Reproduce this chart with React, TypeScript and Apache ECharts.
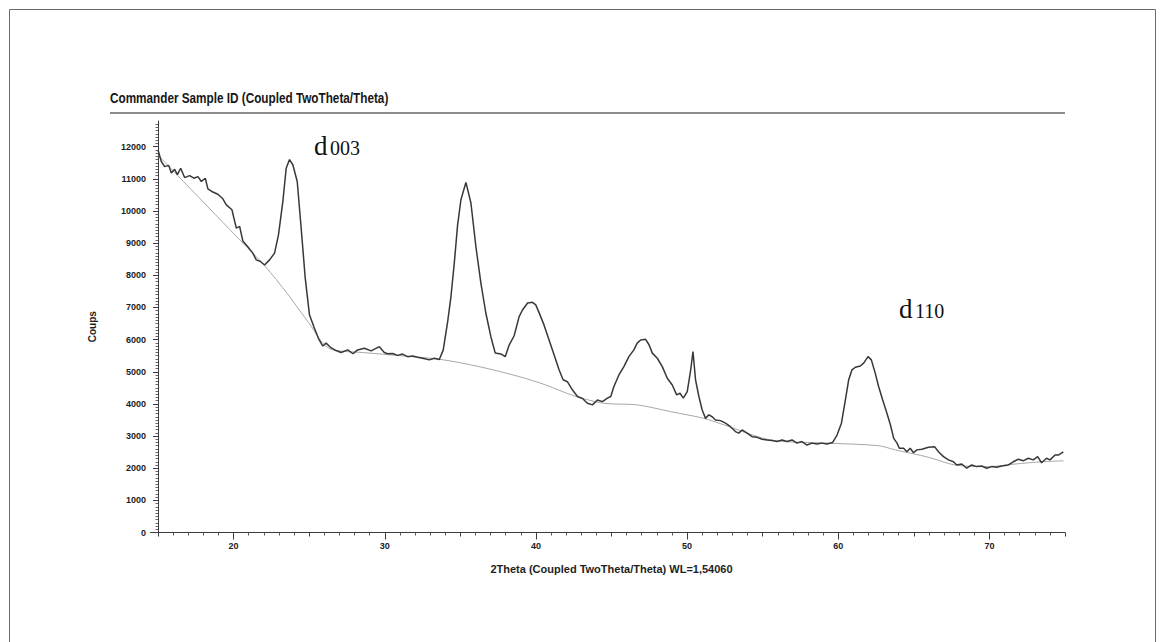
import React, { useEffect, useRef } from "react";
import * as echarts from "echarts";

// Measured diffraction pattern: 2θ (degrees) and intensity (counts)
const scanAngle = [
  15.0, 15.22, 15.44, 15.71, 15.88, 16.1, 16.28, 16.5, 16.76, 17.09, 17.38, 17.64, 17.87, 18.13,
  18.3, 18.63, 18.96, 19.29, 19.52, 19.89, 20.18, 20.4, 20.61, 20.94, 21.27, 21.5, 21.78, 22.05,
  22.38, 22.71, 22.97, 23.26, 23.48, 23.7, 23.92, 24.21, 24.47, 24.74, 25.02, 25.31, 25.61, 25.9,
  26.12, 26.41, 26.78, 27.11, 27.55, 27.9, 28.2, 28.65, 29.1, 29.64, 29.97, 30.19, 30.52, 30.85,
  31.18, 31.51, 31.84, 32.17, 32.5, 32.95, 33.28, 33.61, 33.87, 34.16, 34.38, 34.6, 34.82, 35.04,
  35.37, 35.7, 36.03, 36.36, 36.69, 37.02, 37.31, 37.68, 37.97, 38.23, 38.56, 38.89, 39.11, 39.45,
  39.77, 39.99, 40.21, 40.54, 40.87, 41.2, 41.53, 41.8, 42.08, 42.42, 42.75, 43.08, 43.41, 43.74,
  44.07, 44.4, 44.73, 44.95, 45.16, 45.49, 45.82, 46.15, 46.48, 46.7, 46.93, 47.26, 47.48, 47.7,
  48.03, 48.36, 48.69, 49.02, 49.31, 49.53, 49.75, 50.01, 50.24, 50.39, 50.56, 50.78, 51.0, 51.22,
  51.44, 51.66, 51.88, 52.21, 52.54, 52.87, 53.2, 53.42, 53.64, 53.97, 54.3, 54.63, 54.96, 55.29,
  55.62, 55.95, 56.28, 56.61, 56.94, 57.27, 57.6, 57.93, 58.26, 58.59, 58.92, 59.25, 59.63, 59.92,
  60.21, 60.47, 60.69, 60.91, 61.13, 61.46, 61.68, 61.97, 62.19, 62.45, 62.67, 62.94, 63.22, 63.45,
  63.67, 63.89, 64.04, 64.32, 64.54, 64.76, 64.98, 65.2, 65.53, 65.97, 66.37, 66.63, 66.96, 67.29,
  67.62, 67.84, 68.17, 68.5, 68.83, 69.16, 69.49, 69.82, 70.15, 70.48, 70.81, 71.25, 71.58, 71.91,
  72.24, 72.57, 72.9, 73.19, 73.45, 73.78, 74.01, 74.34, 74.56, 74.89,
];
const scanCounts = [
  11900, 11540, 11380, 11420, 11180, 11300, 11130, 11330, 11040, 11100, 11020, 11070, 10920, 11020,
  10690, 10590, 10520, 10380, 10190, 10040, 9470, 9520, 9070, 8890, 8690, 8480, 8430, 8320,
  8480, 8690, 9260, 10300, 11330, 11600, 11440, 10920, 9470, 7910, 6770, 6400, 6040, 5800,
  5890, 5760, 5660, 5600, 5680, 5560, 5680, 5730, 5650, 5780, 5600, 5560, 5570, 5510,
  5550, 5470, 5490, 5450, 5420, 5370, 5420, 5380, 5680, 6550, 7340, 8380, 9570, 10350,
  10890, 10250, 8890, 7760, 6820, 6090, 5580, 5555, 5470, 5830, 6120, 6716, 6920, 7140,
  7160, 7080, 6840, 6450, 5990, 5530, 5060, 4750, 4690, 4430, 4230, 4170, 4020, 3970,
  4120, 4070, 4180, 4230, 4540, 4900, 5160, 5470, 5680, 5890, 5990, 6010, 5840, 5580,
  5420, 5160, 4800, 4590, 4280, 4330, 4180, 4380, 5060, 5630, 4750, 4230, 3810, 3550,
  3660, 3600, 3500, 3480, 3400, 3290, 3140, 3090, 3190, 3090, 2980, 2960, 2900, 2880,
  2860, 2830, 2880, 2830, 2880, 2780, 2830, 2720, 2780, 2750, 2780, 2750, 2800, 3030,
  3400, 4120, 4750, 5060, 5140, 5180, 5270, 5470, 5370, 4950, 4540, 4120, 3710, 3350,
  2930, 2780, 2620, 2620, 2510, 2620, 2480, 2570, 2590, 2650, 2670, 2510, 2360, 2260,
  2200, 2100, 2130, 2000, 2100, 2050, 2070, 2000, 2050, 2030, 2070, 2100, 2200, 2280,
  2230, 2310, 2260, 2360, 2170, 2310, 2260, 2410, 2410, 2510,
];

// Fitted background under the pattern
const baseAngle = [
  15.0, 16.21, 20.29, 22.05, 23.59, 24.35, 25.13, 25.9, 26.56, 28.5, 31.0, 33.6, 36.24, 38.89,
  40.65, 42.52, 44.5, 46.7, 48.91, 51.11, 52.43, 55.52, 59.37, 62.67, 63.77, 65.97, 67.73, 69.93,
  71.7, 73.45, 74.9,
];
const baseCounts = [
  11740, 11150, 9160, 8300, 7410, 6920, 6420, 5890, 5680, 5600, 5500, 5390, 5160, 4850,
  4590, 4250, 4020, 3970, 3760, 3550, 3350, 2880, 2780, 2700, 2570, 2340, 2100, 2050,
  2130, 2200, 2230,
];

const xLabelTicks = [20, 30, 40, 50, 60, 70];
const yLabelTicks = [0, 1000, 2000, 3000, 4000, 5000, 6000, 7000, 8000, 9000, 10000, 11000, 12000];

const TITLE = "Commander Sample ID (Coupled TwoTheta/Theta)";
const X_NAME = "2Theta (Coupled TwoTheta/Theta) WL=1,54060";
const Y_NAME = "Coups";

const zip = (xs: number[], ys: number[]) => xs.map((x, i) => [x, ys[i]]);

export default function App() {
  const ref = useRef<HTMLDivElement>(null);

  useEffect(() => {
    if (!ref.current) return;
    const chart = echarts.init(ref.current, null, { renderer: "svg" });
    const sans = "'Liberation Sans', Arial, sans-serif";
    const serif = "'Liberation Serif', 'Times New Roman', serif";
    const axisColor = "#3c3c3c";
    const labelStyle = {
      fontFamily: sans,
      fontSize: 9,
      fontWeight: "bold" as const,
      color: "#1c1c1c",
      formatter: (v: number) => String(v),
    };

    chart.setOption({
      animation: false,
      backgroundColor: "#ffffff",
      grid: { left: 158, right: 101, top: 121, bottom: 109.5 },
      xAxis: [
        {
          type: "value",
          min: 15,
          max: 75,
          interval: 5,
          axisLine: { show: true, lineStyle: { color: axisColor, width: 1 } },
          axisTick: { show: true, length: 4, lineStyle: { color: axisColor } },
          minorTick: { show: true, splitNumber: 5, length: 3, lineStyle: { color: "#555" } },
          splitLine: { show: false },
          axisLabel: { ...labelStyle, margin: 9, customValues: xLabelTicks },
          name: X_NAME,
          nameLocation: "middle",
          nameGap: 31,
          nameTextStyle: { fontFamily: sans, fontSize: 11, fontWeight: "bold", color: "#1e1e1e" },
        },
        {
          type: "value",
          min: 15,
          max: 75,
          interval: 5,
          position: "bottom",
          axisLine: { show: false },
          axisTick: { show: true, length: 7, customValues: xLabelTicks, lineStyle: { color: axisColor } },
          axisLabel: { show: false },
          splitLine: { show: false },
        },
      ],
      yAxis: {
        type: "value",
        min: 0,
        max: 12800,
        interval: 1000,
        axisLine: { show: true, lineStyle: { color: axisColor, width: 1 } },
        axisTick: { show: true, length: 5, customValues: yLabelTicks, lineStyle: { color: axisColor } },
        minorTick: { show: true, splitNumber: 10, length: 2.5, lineStyle: { color: "#666" } },
        splitLine: { show: false },
        axisLabel: { ...labelStyle, margin: 12, customValues: yLabelTicks },
        name: Y_NAME,
        nameLocation: "middle",
        nameGap: 61,
        nameTextStyle: { fontFamily: sans, fontSize: 10, fontWeight: "bold", color: "#1e1e1e" },
      },
      series: [
        {
          type: "line",
          data: zip(baseAngle, baseCounts),
          showSymbol: false,
          smooth: 0.3,
          lineStyle: { color: "#a8a8a8", width: 1 },
          z: 1,
        },
        {
          type: "line",
          data: zip(scanAngle, scanCounts),
          showSymbol: false,
          lineStyle: { color: "#383838", width: 1.5 },
          z: 2,
        },
      ],
      graphic: [
        {
          type: "rect",
          shape: { x: 9.5, y: 9.5, width: 1146, height: 645 },
          style: { fill: "none", stroke: "#6a6a6a", lineWidth: 1 },
          silent: true,
        },
        {
          // x-axis line runs a little past the y-axis on the left
          type: "line",
          shape: { x1: 150, y1: 532.5, x2: 158, y2: 532.5 },
          style: { stroke: axisColor, lineWidth: 1 },
        },
        {
          type: "text",
          x: 110,
          y: 98,
          scaleX: 0.84,
          style: { text: TITLE, font: `bold 14px ${sans}`, fill: "#161616", verticalAlign: "middle" },
        },
        {
          type: "line",
          shape: { x1: 110, y1: 113, x2: 1065, y2: 113 },
          style: { stroke: "#8c8c8c", lineWidth: 2 },
        },
        {
          type: "text",
          x: 314,
          y: 159,
          style: { text: "d", font: `27px ${serif}`, fill: "#111", verticalAlign: "bottom" },
        },
        {
          type: "text",
          x: 330,
          y: 158,
          style: { text: "003", font: `20px ${serif}`, fill: "#111", verticalAlign: "bottom" },
        },
        {
          type: "text",
          x: 899,
          y: 322,
          style: { text: "d", font: `27px ${serif}`, fill: "#111", verticalAlign: "bottom" },
        },
        {
          type: "text",
          x: 915,
          y: 321,
          style: { text: "110", font: `20px ${serif}`, fill: "#111", verticalAlign: "bottom" },
        },
      ],
    });

    return () => chart.dispose();
  }, []);

  return (
    <div
      ref={ref}
      style={{ position: "fixed", left: 0, top: 0, width: 1166, height: 642 }}
    />
  );
}
